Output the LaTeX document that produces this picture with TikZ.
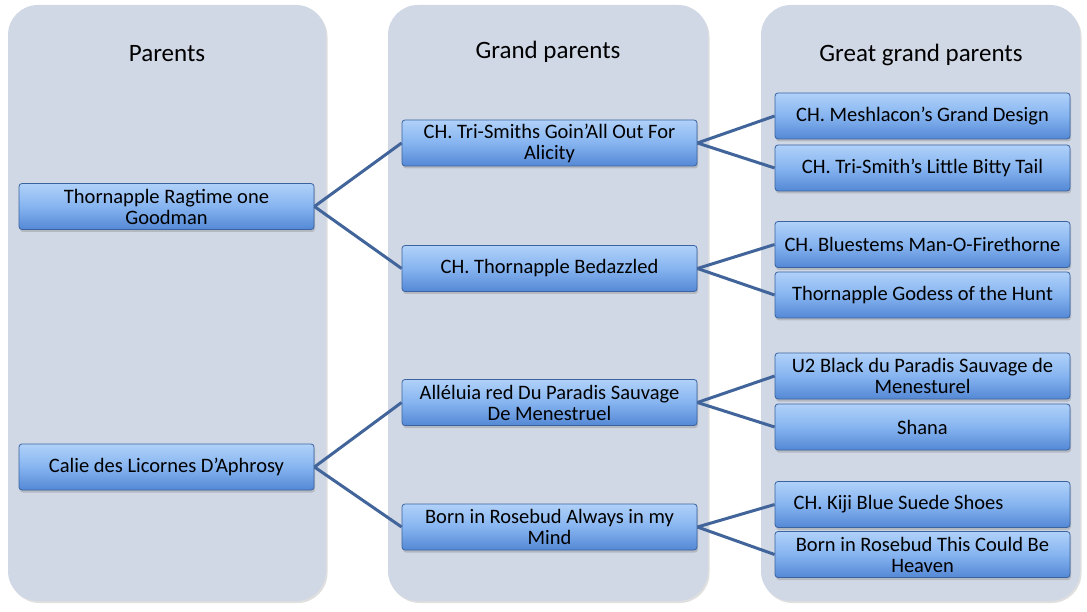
\documentclass[tikz,border=0pt]{standalone}
\usepackage{fontspec}
\setmainfont{Carlito}
\usetikzlibrary{shadows}
\definecolor{colbg}{HTML}{D0D7E5}
\definecolor{boxtop}{HTML}{B0D1F9}
\definecolor{boxmid}{HTML}{86B4F0}
\definecolor{boxbot}{HTML}{5488D5}
\definecolor{boxline}{HTML}{3A63A0}
\definecolor{linkc}{HTML}{41659A}
\tikzset{
  colbox/.style={fill=colbg, rounded corners=30pt, draw=none,
    drop shadow={shadow xshift=1.5pt, shadow yshift=-2pt, opacity=0.25}},
  coltitle/.style={font=\fontsize{25}{29}\selectfont, anchor=center},
  person/.style={draw=boxline, line width=0.8pt, rounded corners=3pt,
    minimum width=295pt, minimum height=46pt, align=center,
    inner sep=0pt, top color=boxtop, bottom color=boxbot, middle color=boxmid,
    font=\fontsize{20.5}{21}\selectfont,
    drop shadow={shadow xshift=1pt, shadow yshift=-2.5pt, opacity=0.35}},
  link/.style={draw=linkc, line width=3pt}
}
\begin{document}
\begin{tikzpicture}[x=1pt,y=-1pt]
\useasboundingbox (0,0) rectangle (1087,612);
\fill[white] (0,0) rectangle (1087,612);
% columns
\path[colbox] (8,5) rectangle (326,601);
\path[colbox] (388,5) rectangle (708,601);
\path[colbox] (761,5) rectangle (1080,601);
\node[coltitle] (t1) at (167,54) {Parents};
\node[coltitle] (t2) at (548,52) {Grand parents};
\node[coltitle] (t3) at (921,55) {Great grand parents};
% parents
\node[person] (p1) at (166.5,206.5) {Thornapple Ragtime one\\Goodman};
\node[person] (p2) at (166.5,467) {Calie des Licornes D’Aphrosy};
% grandparents
\node[person] (g1) at (549.5,143) {CH. Tri-Smiths Goin’All Out For\\Alicity};
\node[person] (g2) at (549.5,268.5) {CH. Thornapple Bedazzled};
\node[person] (g3) at (549.5,402.5) {Alléluia red Du Paradis Sauvage\\De Menestruel};
\node[person] (g4) at (549.5,527) {Born in Rosebud Always in my\\Mind};
% great grandparents
\node[person] (e1) at (922.5,116) {CH. Meshlacon’s Grand Design};
\node[person] (e2) at (922.5,168) {CH. Tri-Smith’s Little Bitty Tail};
\node[person] (e3) at (922.5,244.5) {CH. Bluestems Man-O-Firethorne};
\node[person] (e4) at (922.5,295) {Thornapple Godess of the Hunt};
\node[person] (e5) at (922.5,376) {U2 Black du Paradis Sauvage de\\Menesturel};
\node[person] (e6) at (922.5,427) {Shana};
\node[person] (e7) at (922.5,504.5) {CH. Kiji Blue Suede Shoes\hspace*{48pt}};
\node[person] (e8) at (922.5,554.5) {Born in Rosebud This Could Be\\Heaven};
% links
\draw[link] (p1.east) -- (g1.west);
\draw[link] (p1.east) -- (g2.west);
\draw[link] (p2.east) -- (g3.west);
\draw[link] (p2.east) -- (g4.west);
\draw[link] (g1.east) -- (e1.west);
\draw[link] (g1.east) -- (e2.west);
\draw[link] (g2.east) -- (e3.west);
\draw[link] (g2.east) -- (e4.west);
\draw[link] (g3.east) -- (e5.west);
\draw[link] (g3.east) -- (e6.west);
\draw[link] (g4.east) -- (e7.west);
\draw[link] (g4.east) -- (e8.west);
\end{tikzpicture}
\end{document}
